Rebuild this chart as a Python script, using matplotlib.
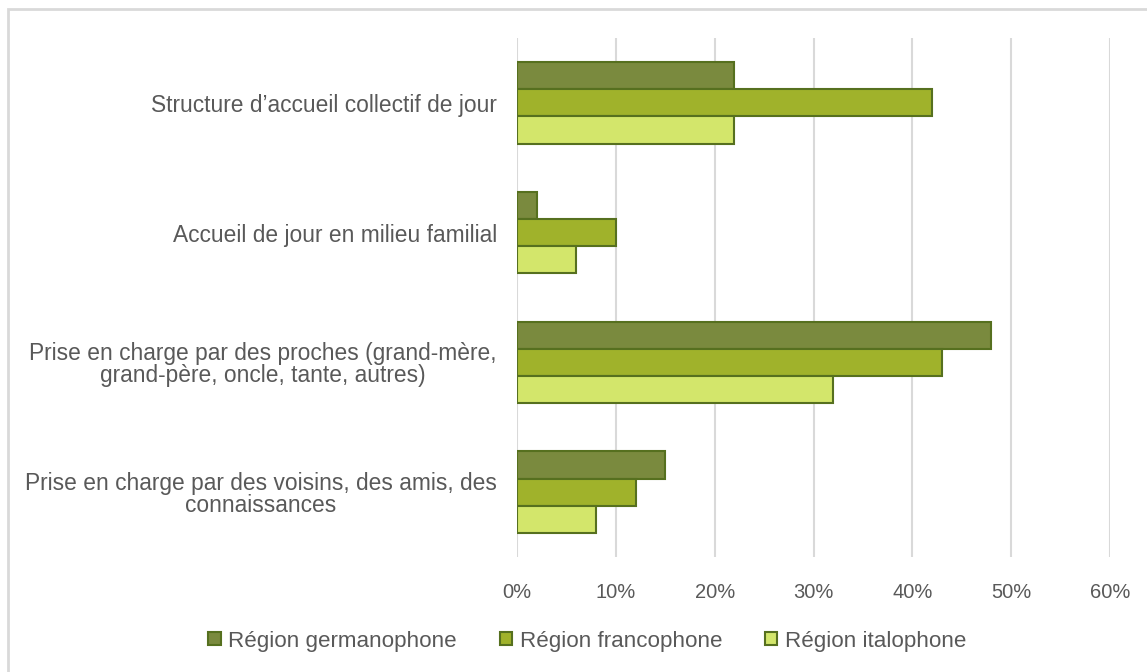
import numpy as np
import matplotlib.pyplot as plt
from matplotlib.patches import Patch, Rectangle
from matplotlib.ticker import PercentFormatter

categories = [
    "Structure d\u2019accueil collectif de jour",
    "Accueil de jour en milieu familial",
    "Prise en charge par des proches (grand-mère,\ngrand-père, oncle, tante, autres)",
    "Prise en charge par des voisins, des amis, des\nconnaissances",
]
series = ["Région germanophone", "Région francophone", "Région italophone"]
germanophone = [22, 2, 48, 15]
francophone = [42, 10, 43, 12]
italophone = [22, 6, 32, 8]
xticks = [0, 10, 20, 30, 40, 50, 60]

colors = ["#7A8A3E", "#A0B22B", "#D3E66B"]
edge = "#56701F"
grey = "#595959"

plt.rcParams['font.family'] = ['Liberation Sans', 'DejaVu Sans']

fig = plt.figure(figsize=(11.47, 6.72), dpi=100)
ax = fig.add_axes([517 / 1147, 1 - 557 / 672, (1110 - 517) / 1147, (557 - 38) / 672])

y = np.arange(len(categories))
h = 0.21
for i, (vals, c) in enumerate(zip([germanophone, francophone, italophone], colors)):
    ax.barh(y + (i - 1) * h, vals, height=h, color=c, edgecolor=edge, linewidth=1.5, zorder=3)

ax.set_xlim(0, 60)
ax.set_ylim(len(categories) - 0.5, -0.5)
ax.set_xticks(xticks)
ax.xaxis.set_major_formatter(PercentFormatter(decimals=0))
ax.set_yticks(y)
ax.set_yticklabels(categories, multialignment='center', linespacing=0.95)
ax.tick_params(axis='x', length=0, pad=19, labelsize=14.5, labelcolor=grey)
ax.tick_params(axis='y', length=0, pad=14.5, labelsize=16.4, labelcolor=grey)
ax.grid(axis='x', color='#D9D9D9', linewidth=1.5, zorder=0)
for s in ax.spines.values():
    s.set_visible(False)

handles = [Patch(facecolor=c, edgecolor=edge, linewidth=1.5) for c in colors]
fig.legend(handles, series, loc='center', bbox_to_anchor=(0.512, 1 - 641 / 672), ncol=3,
           frameon=False, fontsize=16.1, labelcolor=grey, handlelength=0.55, handleheight=0.55,
           handletextpad=0.35, columnspacing=1.9)

# light frame around the chart
fig.patches.append(Rectangle((8 / 1147, -0.1), 1.2, 1 - 9 / 672 + 0.1, transform=fig.transFigure,
                             fill=False, edgecolor='#D9D9D9', linewidth=2, clip_on=False))

fig.savefig('out.png', dpi=100)
